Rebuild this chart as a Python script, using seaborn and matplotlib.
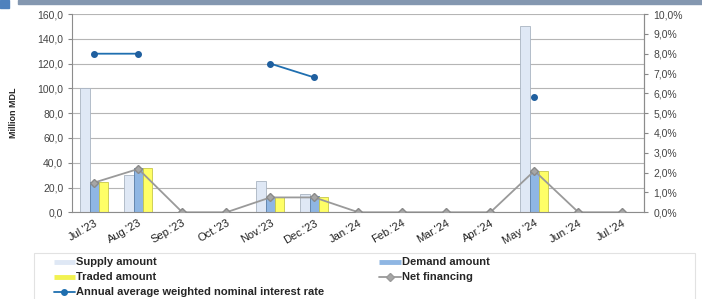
import numpy as np
import pandas as pd
import matplotlib
matplotlib.use("Agg")
import matplotlib.pyplot as plt
import matplotlib.patches as mpatches
from matplotlib.lines import Line2D
from matplotlib.ticker import FuncFormatter, MultipleLocator
import seaborn as sns

months = ["Jul.'23", "Aug.'23", "Sep.'23", "Oct.'23", "Nov.'23", "Dec.'23", "Jan.'24",
          "Feb.'24", "Mar.'24", "Apr.'24", "May '24", "Jun.'24", "Jul.'24"]
supply = [100.0, 30.0, 0, 0, 25.0, 15.0, 0, 0, 0, 0, 150.0, 0, 0]
demand = [24.5, 36.0, 0, 0, 12.5, 13.0, 0, 0, 0, 0, 33.5, 0, 0]
traded = [24.5, 36.0, 0, 0, 12.0, 12.0, 0, 0, 0, 0, 33.5, 0, 0]
net_financing = [24.0, 35.0, 0, 0, 12.0, 12.0, 0, 0, 0, 0, 33.5, 0, 0]
rate = [8.0, 8.0, np.nan, np.nan, 7.5, 6.8, np.nan, np.nan, np.nan, np.nan, 5.8, np.nan, np.nan]

series_names = ["Supply amount", "Demand amount", "Traded amount"]
bar_colors = ["#dfe8f5", "#8fb6e3", "#ffff66"]
edge_colors = ["#a9b4c2", "#5b7fa8", "#c8c84a"]

sns.set_style("white")
plt.rcParams["font.family"] = ["Liberation Sans", "DejaVu Sans"]

df = pd.DataFrame({"month": months, series_names[0]: supply,
                   series_names[1]: demand, series_names[2]: traded})
long_df = df.melt(id_vars="month", var_name="series", value_name="value")

fig = plt.figure(figsize=(7.02, 2.99), dpi=100)
ax = fig.add_axes([0.103, 0.29, 0.815, 0.663])

sns.barplot(data=long_df, x="month", y="value", hue="series", order=months,
            hue_order=series_names, palette=bar_colors, width=0.64,
            saturation=1, ax=ax, legend=False, zorder=2)
for i, cont in enumerate(ax.containers):
    for p in cont:
        p.set_edgecolor(edge_colors[i])
        p.set_linewidth(0.6)

x = np.arange(len(months))
ax.plot(x, net_financing, color="#9a9a9a", lw=1.3, marker="D", ms=4,
        mfc="#a6a6a6", mec="#8a8a8a", zorder=4)

ax.set_ylim(0, 160)
ax.set_xlim(-0.5, len(months) - 0.5)
ax.yaxis.set_major_locator(MultipleLocator(20))
ax.yaxis.set_major_formatter(FuncFormatter(lambda v, _: f"{v:.1f}".replace(".", ",")))
ax.grid(axis="y", color="#b5b5b5", lw=0.8, zorder=0)
ax.set_axisbelow(True)
ax.set_xlabel("")
ax.set_ylabel("Million MDL", fontsize=6.5, fontweight="bold", labelpad=14)
ax.tick_params(axis="y", labelsize=7.5, colors="#444444", length=3, color="#888888")
ax.set_xticks(x)
ax.set_xticklabels(months, rotation=30, ha="right", rotation_mode="anchor",
                   fontsize=8, color="#222222")
ax.tick_params(axis="x", length=0, pad=4)
ax.set_xticks(np.arange(-0.5, len(months), 1), minor=True)
ax.tick_params(axis="x", which="minor", length=3, color="#888888")
for s in ["left", "bottom", "right"]:
    ax.spines[s].set_color("#8c8c8c")
    ax.spines[s].set_linewidth(0.8)
ax.spines["top"].set_visible(False)

ax2 = ax.twinx()
ax2.plot(x, rate, color="#1f6fb0", lw=1.3, marker="o", ms=4,
         mfc="#1f5f9f", mec="#1f5f9f", zorder=5)
ax2.set_ylim(0, 10)
ax2.yaxis.set_major_locator(MultipleLocator(1))
ax2.yaxis.set_major_formatter(FuncFormatter(lambda v, _: f"{v:.1f}%".replace(".", ",")))
ax2.tick_params(axis="y", labelsize=7.5, colors="#444444", length=3, color="#888888")
for s in ["left", "bottom", "right", "top"]:
    ax2.spines[s].set_visible(False)
ax2.spines["right"].set_visible(True)
ax2.spines["right"].set_color("#8c8c8c")

# header band
fig.patches.append(mpatches.Rectangle((0.025, 0.988), 0.975, 0.012, transform=fig.transFigure,
                                      color="#8497b0", zorder=0))
fig.patches.append(mpatches.Rectangle((0, 0.973), 0.013, 0.027, transform=fig.transFigure,
                                      color="#4f81bd", zorder=1))
# legend frame
fig.patches.append(mpatches.Rectangle((0.048, -0.05), 0.942, 0.204, transform=fig.transFigure,
                                      facecolor="none", edgecolor="#e2e2e2", lw=0.8))

handles = [
    Line2D([], [], color=bar_colors[0], lw=3.5, label="Supply amount"),
    Line2D([], [], color="#f2f250", lw=3.5, label="Traded amount"),
    Line2D([], [], color="#1f6fb0", marker="o", ms=4, lw=1.3,
           label="Annual average weighted nominal interest rate"),
    Line2D([], [], color=bar_colors[1], lw=3.5, label="Demand amount"),
    Line2D([], [], color="#9a9a9a", marker="D", ms=4, lw=1.3, mfc="#a6a6a6",
           label="Net financing"),
]
for h in handles[:2] + handles[3:4]:
    h.set_solid_capstyle("butt")
leg = fig.legend(handles=handles, ncol=2, loc="upper left", bbox_to_anchor=(0.07, 0.154),
                 bbox_transform=fig.transFigure, frameon=False,
                 prop={"weight": "bold", "size": 8}, handlelength=1.9, handletextpad=0.1,
                 columnspacing=5.0, labelspacing=0.45, borderaxespad=0, borderpad=0.4)

fig.savefig("out.png", dpi=100)
